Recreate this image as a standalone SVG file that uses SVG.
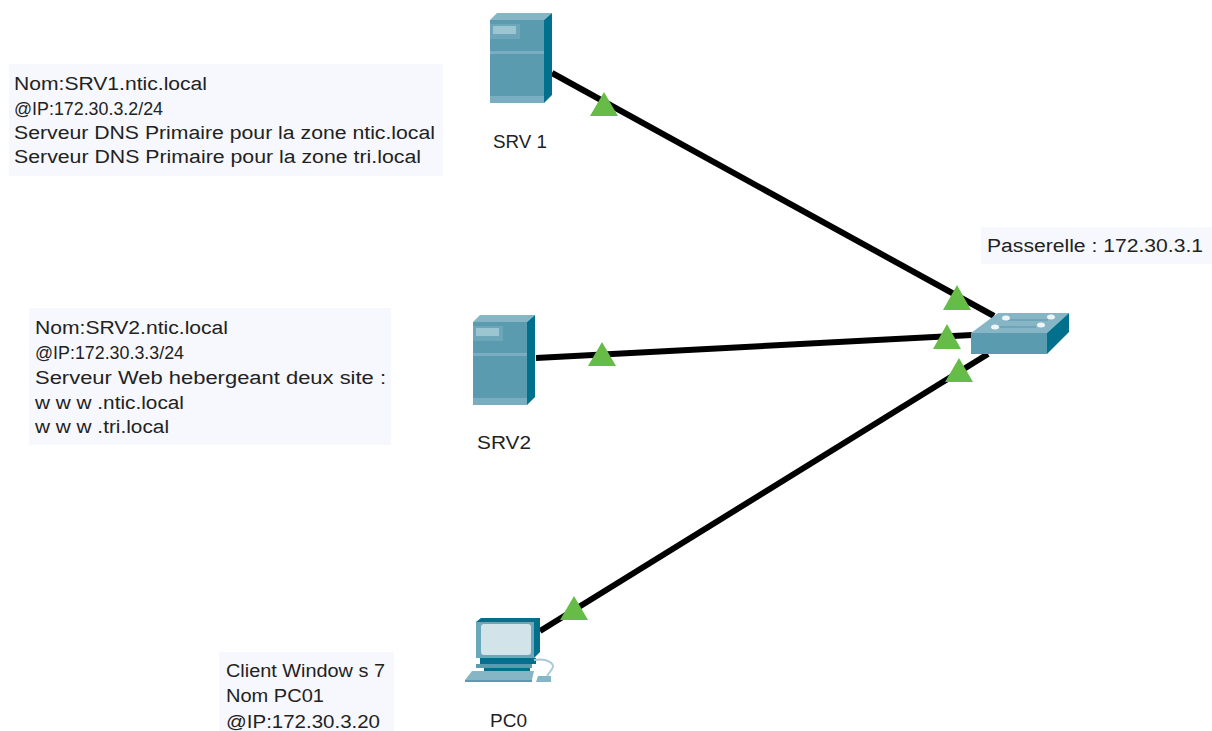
<svg xmlns="http://www.w3.org/2000/svg" width="1212" height="731" viewBox="0 0 1212 731">
<style>
.t{font-family:"Liberation Sans",Arial,sans-serif;font-size:18px;fill:#222}
.ip{font-size:19px}
.box{fill:#f7f8fd}
.lnk{stroke:#000;stroke-width:6;fill:none}
.tri{fill:#67bb47}
.f{fill:#5a9bb0}
.d{fill:#00708c}
.l{fill:#86b6c6}
.soft{filter:url(#soft)}
</style>
<defs>
<filter id="soft" x="-5%" y="-5%" width="110%" height="110%"><feGaussianBlur stdDeviation="0.5"/></filter>
<g id="srv">
<path class="l" d="M0 7 L7 0 H62 L54 7Z"/>
<path class="d" d="M54 7 L62 0 V82 L54 90Z"/>
<rect class="f" x="0" y="7" width="54" height="83"/>
<rect x="0" y="83" width="54" height="7" fill="#79adbf"/>
<rect x="0" y="38" width="54" height="3" fill="#79adbf"/>
<rect x="0" y="11" width="30" height="15" fill="#6ea6b9"/>
<rect x="3" y="13" width="23" height="8" fill="#9cc5d2"/>
</g>
</defs>
<rect width="1212" height="731" fill="#fff"/>
<g id="connectors">
<path class="lnk" d="M552 73 L994 316"/>
<path class="lnk" d="M536 358 L972 335"/>
<path class="lnk" d="M540 631 L988 354"/>
<path class="tri" d="M604 92 L618 116 H590Z"/>
<path class="tri" d="M957 285 L971 310 H943Z"/>
<path class="tri" d="M602 342 L616 366 H588Z"/>
<path class="tri" d="M947 324 L961 349 H933Z"/>
<path class="tri" d="M574 596 L588 620 H560Z"/>
<path class="tri" d="M959 358 L973 382 H945Z"/>
</g>
<g id="note-srv1">
<rect class="box" x="9" y="64" width="434" height="112"/>
<text class="t" x="14" y="90" textLength="193" lengthAdjust="spacingAndGlyphs">Nom:SRV1.ntic.local</text>
<text class="t ip" x="14" y="115" textLength="149" lengthAdjust="spacingAndGlyphs">@IP:172.30.3.2/24</text>
<text class="t" x="14" y="139" textLength="421" lengthAdjust="spacingAndGlyphs">Serveur DNS Primaire pour la zone ntic.local</text>
<text class="t" x="14" y="163" textLength="407" lengthAdjust="spacingAndGlyphs">Serveur DNS Primaire pour la zone tri.local</text>
</g>
<g id="note-srv2">
<rect class="box" x="29" y="308" width="362" height="137"/>
<text class="t" x="35" y="334" textLength="193" lengthAdjust="spacingAndGlyphs">Nom:SRV2.ntic.local</text>
<text class="t ip" x="35" y="359" textLength="149" lengthAdjust="spacingAndGlyphs">@IP:172.30.3.3/24</text>
<text class="t" x="35" y="384" textLength="351" lengthAdjust="spacingAndGlyphs">Serveur Web hebergeant deux site :</text>
<text class="t" x="35" y="409" textLength="149" lengthAdjust="spacingAndGlyphs">w w w .ntic.local</text>
<text class="t" x="35" y="433" textLength="134" lengthAdjust="spacingAndGlyphs">w w w .tri.local</text>
</g>
<g id="note-pc">
<rect class="box" x="219" y="652" width="175" height="79"/>
<text class="t" x="226" y="677" textLength="159" lengthAdjust="spacingAndGlyphs">Client Window s 7</text>
<text class="t" x="226" y="702" textLength="98" lengthAdjust="spacingAndGlyphs">Nom PC01</text>
<text class="t" x="226" y="728" textLength="154" lengthAdjust="spacingAndGlyphs">@IP:172.30.3.20</text>
</g>
<g id="note-gw">
<rect class="box" x="981" y="227" width="231" height="37"/>
<text class="t" x="987" y="252" textLength="216" lengthAdjust="spacingAndGlyphs">Passerelle : 172.30.3.1</text>
</g>
<g id="SRV1">
<use href="#srv" x="490" y="13" class="soft"/>
<text class="t" x="493" y="148" textLength="54" lengthAdjust="spacingAndGlyphs">SRV 1</text>
</g>
<g id="SRV2">
<use href="#srv" x="473" y="315" class="soft"/>
<text class="t" x="477" y="449" textLength="54" lengthAdjust="spacingAndGlyphs">SRV2</text>
</g>
<g id="switch">
<g class="soft">
<path class="l" d="M971 333 L998 313 H1069 L1047 333Z"/>
<path class="d" d="M1047 333 L1069 313 V332 L1047 354Z"/>
<rect class="f" x="971" y="333" width="76" height="21"/>
<path d="M1008 320 H1048 M1000 327 H1036" stroke="#6fa5b7" stroke-width="2"/>
<g fill="#eef5f7">
<ellipse cx="1006" cy="318" rx="4" ry="2.5"/>
<ellipse cx="1051" cy="317" rx="4" ry="2.5"/>
<ellipse cx="995" cy="327" rx="4" ry="2.5"/>
<ellipse cx="1041" cy="325" rx="4" ry="2.5"/>
</g>
</g>
</g>
<g id="PC0">
<g class="soft">
<path class="d" d="M476 622 L481 618 H540 V652 L534 658 H476Z"/>
<path fill="#6aa7ba" d="M476 622 H534 V658 H476Z"/>
<rect x="481" y="624" width="50" height="31" rx="3" fill="#d3e3ea"/>
<path class="d" d="M480 658 H536 V664 H480Z"/>
<path class="f" d="M476 664 H532 V668 H476Z"/>
<path class="d" d="M484 668 H530 V671 H484Z"/>
<path class="l" d="M472 671 H534 L532 680 H465Z"/>
<path class="f" d="M465 680 H532 V682 H465Z"/>
<path class="l" d="M538 676 H551 V682 H536Z"/>
<path d="M534 660 C548 658 556 664 552 669 L547 676" fill="none" stroke="#a6cad6" stroke-width="2"/>
</g>
<text class="t" x="490" y="727" textLength="37" lengthAdjust="spacingAndGlyphs">PC0</text>
</g>
</svg>
